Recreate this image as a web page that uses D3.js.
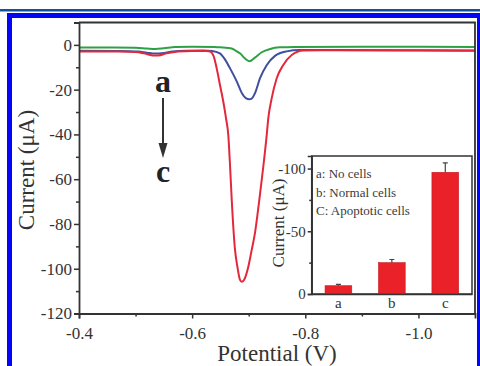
<!DOCTYPE html>
<html>
<head>
<meta charset="utf-8">
<script src="https://cdn.jsdelivr.net/npm/d3@7/dist/d3.min.js"></script>
<style>
  body { margin: 0; background: #fff; }
  svg { display: block; font-family: "Liberation Serif", "DejaVu Serif", serif; }
  svg text { font-family: "Liberation Serif", "DejaVu Serif", serif !important; }
</style>
</head>
<body>
<svg id="chart" width="480" height="366"></svg>
<script>
// DPV curves: [potential (V), current (uA)]
const curveA = [ // no cells (green)
  [-0.40, -1.2], [-0.46, -1.2], [-0.50, -1.3], [-0.52, -1.6], [-0.535, -1.8], [-0.55, -1.5],
  [-0.57, -1.0], [-0.60, -0.8], [-0.64, -0.9], [-0.655, -1.2], [-0.668, -1.5], [-0.676, -2.4],
  [-0.685, -3.9], [-0.693, -6.0], [-0.701, -7.3], [-0.711, -5.7], [-0.723, -3.3], [-0.738, -1.8],
  [-0.755, -1.1], [-0.78, -0.9], [-0.90, -0.8], [-1.00, -0.8], [-1.10, -0.9]
];
const curveB = [ // normal cells (blue)
  [-0.40, -2.6], [-0.47, -2.7], [-0.505, -3.0], [-0.52, -3.5], [-0.535, -3.9], [-0.55, -3.6],
  [-0.565, -3.0], [-0.59, -2.6], [-0.62, -2.5], [-0.635, -2.7], [-0.649, -3.8], [-0.658, -6.5],
  [-0.667, -10.5], [-0.679, -16.4], [-0.688, -21.6], [-0.695, -23.8], [-0.701, -24.3], [-0.706, -23.8],
  [-0.711, -21.6], [-0.720, -14.9], [-0.732, -9.0], [-0.747, -4.8], [-0.767, -2.9], [-0.79, -2.3],
  [-0.85, -2.3], [-1.00, -2.4], [-1.10, -2.5]
];
const curveC = [ // apoptotic cells (red)
  [-0.40, -2.9], [-0.47, -3.0], [-0.50, -3.2], [-0.515, -3.8], [-0.53, -4.7], [-0.54, -4.7],
  [-0.555, -3.8], [-0.575, -3.0], [-0.60, -2.7], [-0.625, -2.7], [-0.632, -3.0], [-0.638, -5.0],
  [-0.6434, -10.5], [-0.6492, -17.9], [-0.6551, -25.4], [-0.6599, -32.8], [-0.6639, -40.3],
  [-0.6672, -55], [-0.670, -69.3], [-0.6758, -91.6], [-0.680, -99.1], [-0.6846, -105.0],
  [-0.6876, -105.8], [-0.6917, -105.0], [-0.6993, -99.1], [-0.7053, -91.6], [-0.7111, -84.0],
  [-0.7187, -69.3], [-0.7255, -55], [-0.7318, -40.3], [-0.7346, -32.8], [-0.7406, -23.9],
  [-0.7495, -14.9], [-0.7611, -9.0], [-0.776, -4.5], [-0.7965, -2.5], [-0.83, -2.4],
  [-1.00, -2.5], [-1.10, -2.6]
];
const curveColors = ['#2fa145', '#3f4fa0', '#e4283c'];

const xTicks = [-0.4, -0.6, -0.8, -1.0];
const xMinor = [-0.5, -0.7, -0.9];
const yTicks = [0, -20, -40, -60, -80, -100, -120];
const yMinor = [-10, -30, -50, -70, -90, -110];

// inset bar chart
const barCats = ['a', 'b', 'c'];
const barValues = [6.6, 25, 97];
const barErrors = [1.0, 2.5, 7.5];
const insetTicks = [0, 50, 100];
const insetMinor = [25, 75];
const legendLines = ['a: No cells', 'b: Normal cells', 'C: Apoptotic cells'];

const svg = d3.select('#chart');
const ink = '#333';

// page frame
svg.append('rect').attr('x', 0).attr('y', 9).attr('width', 480).attr('height', 2.5).attr('fill', '#14509e');
svg.append('rect').attr('x', 7).attr('y', 13).attr('width', 473).attr('height', 5).attr('fill', '#0505f5');
svg.append('rect').attr('x', 7).attr('y', 13).attr('width', 5).attr('height', 353).attr('fill', '#0505f5');
svg.append('rect').attr('x', 477).attr('y', 13).attr('width', 3).attr('height', 353).attr('fill', '#0505f5');

// main plot
const x = d3.scaleLinear().domain([-0.4, -1.1]).range([79, 475]);
const y = d3.scaleLinear().domain([-120, 10]).range([313.5, 22.5]);

const line = d3.line()
  .x(d => x(d[0]))
  .y(d => y(d[1]))
  .curve(d3.curveMonotoneX);

[curveA, curveB, curveC].forEach((c, i) => {
  svg.append('path')
    .datum(c)
    .attr('d', line)
    .attr('fill', 'none')
    .attr('stroke', curveColors[i])
    .attr('stroke-width', 2);
});

function styleAxis(g, size) {
  g.attr('font-family', null).attr('font-size', size);
  g.select('.domain').attr('stroke', ink).attr('stroke-width', 1.8);
  g.selectAll('.tick line').attr('stroke', ink).attr('stroke-width', 1.5);
  g.selectAll('.tick text').attr('fill', ink);
}

const xAxis = svg.append('g')
  .attr('transform', 'translate(0,313.5)')
  .call(d3.axisBottom(x).tickValues(xTicks).tickSize(5).tickPadding(8).tickFormat(d => d.toFixed(1)));
styleAxis(xAxis, 17);
svg.append('g')
  .attr('transform', 'translate(0,313.5)')
  .call(d3.axisBottom(x).tickValues(xMinor).tickSize(3).tickFormat(''))
  .call(g => styleAxis(g, 17))
  .call(g => g.select('.domain').remove());

const yAxis = svg.append('g')
  .attr('transform', 'translate(79,0)')
  .call(d3.axisLeft(y).tickValues(yTicks).tickSize(5).tickPadding(2).tickFormat(d => String(d)));
styleAxis(yAxis, 17);
svg.append('g')
  .attr('transform', 'translate(79,0)')
  .call(d3.axisLeft(y).tickValues(yMinor).tickSize(3).tickFormat(''))
  .call(g => styleAxis(g, 17))
  .call(g => g.select('.domain').remove());

// top and right frame
svg.append('path')
  .attr('d', `M${x(-0.4)},${y(10)}H${x(-1.1)}V${y(-120)}`)
  .attr('fill', 'none')
  .attr('stroke', ink)
  .attr('stroke-width', 1.8);

svg.append('text')
  .attr('x', 277).attr('y', 361)
  .attr('text-anchor', 'middle')
  .attr('fill', ink)
  .style('font-size', '23px')
  .text('Potential (V)');

svg.append('text')
  .attr('transform', 'translate(26,170) rotate(-90)')
  .attr('text-anchor', 'middle')
  .attr('dominant-baseline', 'central')
  .attr('fill', ink)
  .style('font-size', '23px')
  .text('Current (\u03bcA)');

// a -> c annotation
svg.append('text').attr('x', 163).attr('y', 92).attr('text-anchor', 'middle')
  .attr('fill', '#222').style('font-size', '32px').style('font-weight', 'bold').text('a');
svg.append('text').attr('x', 163).attr('y', 182).attr('text-anchor', 'middle')
  .attr('fill', '#222').style('font-size', '32px').style('font-weight', 'bold').text('c');
svg.append('line').attr('x1', 163).attr('x2', 163).attr('y1', 98).attr('y2', 146)
  .attr('stroke', ink).attr('stroke-width', 2);
svg.append('path').attr('d', 'M158.5,143L167.5,143L163,158Z').attr('fill', ink);

// inset
const ix = d3.scaleBand().domain(barCats).range([311.7, 472]).paddingInner(0.5).paddingOuter(0.25);
const iy = d3.scaleLinear().domain([0, 110]).range([294, 156]);

const inset = svg.append('g');
inset.append('rect')
  .attr('x', 311.7).attr('y', 156).attr('width', 472 - 311.7).attr('height', 294 - 156)
  .attr('fill', '#fff').attr('stroke', ink).attr('stroke-width', 1.5);

inset.selectAll('.bar')
  .data(barValues)
  .join('rect')
  .attr('class', 'bar')
  .attr('x', (d, i) => ix(barCats[i]))
  .attr('y', d => iy(d))
  .attr('width', ix.bandwidth())
  .attr('height', d => iy(0) - iy(d))
  .attr('fill', '#ea2128')
  .attr('stroke', '#c41a20')
  .attr('stroke-width', 0.6);

inset.selectAll('.err')
  .data(barValues)
  .join('path')
  .attr('class', 'err')
  .attr('d', (d, i) => {
    const cx = ix(barCats[i]) + ix.bandwidth() / 2;
    const top = iy(d + barErrors[i]);
    return `M${cx},${iy(d)}V${top}M${cx - 2.5},${top}H${cx + 2.5}`;
  })
  .attr('fill', 'none')
  .attr('stroke', '#444')
  .attr('stroke-width', 1.2);

const iyAxis = inset.append('g')
  .attr('transform', 'translate(311.7,0)')
  .call(d3.axisLeft(iy).tickValues(insetTicks).tickSize(4).tickPadding(2)
    .tickFormat(d => d === 0 ? '0' : '-' + d));
styleAxis(iyAxis, 15);
iyAxis.select('.domain').attr('stroke-width', 1.5);
inset.append('g')
  .attr('transform', 'translate(311.7,0)')
  .call(d3.axisLeft(iy).tickValues(insetMinor).tickSize(2.5).tickFormat(''))
  .call(g => styleAxis(g, 15))
  .call(g => g.select('.domain').remove());

const ixAxis = inset.append('g')
  .attr('transform', 'translate(0,294)')
  .call(d3.axisBottom(ix).tickSize(0).tickPadding(3));
styleAxis(ixAxis, 15);
ixAxis.select('.domain').attr('stroke-width', 1.5);

inset.selectAll('.leg')
  .data(legendLines)
  .join('text')
  .attr('class', 'leg')
  .attr('x', 316)
  .attr('y', (d, i) => 178 + i * 18.5)
  .attr('fill', '#3a3a3a')
  .style('font-size', '13px')
  .text(d => d);

inset.append('text')
  .attr('transform', 'translate(278,223) rotate(-90)')
  .attr('text-anchor', 'middle')
  .attr('dominant-baseline', 'central')
  .attr('fill', ink)
  .style('font-size', '17px')
  .text('Current (\u03bcA)');
</script>
</body>
</html>
